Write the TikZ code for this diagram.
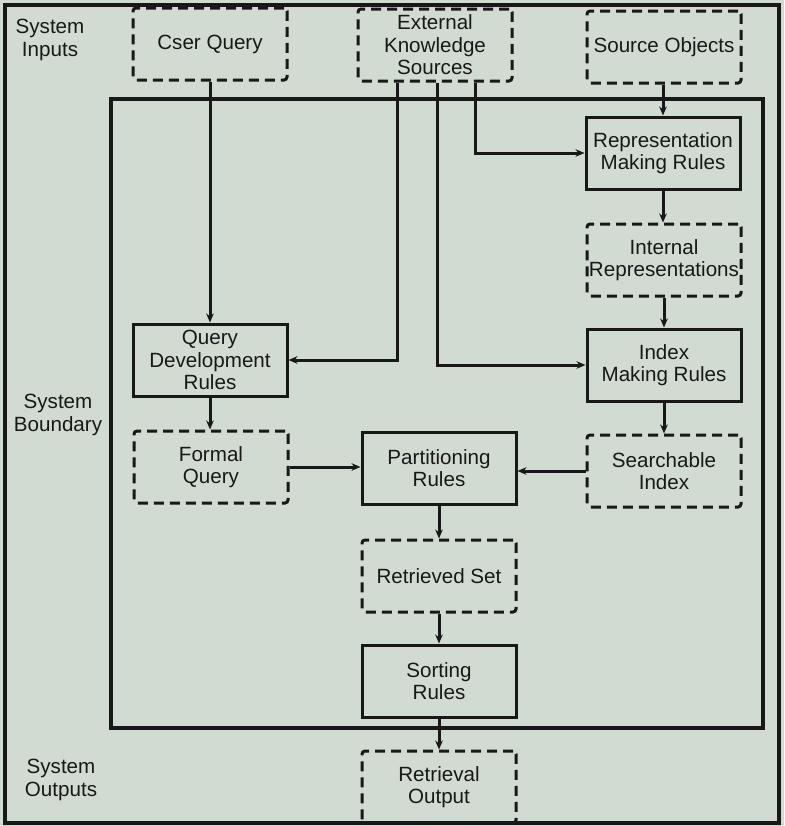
\documentclass[tikz,border=0pt]{standalone}
\usepackage{fontspec}
\setmainfont{Liberation Sans}
\usetikzlibrary{arrows.meta,calc}
\definecolor{paper}{RGB}{210,219,209}
\definecolor{ink}{RGB}{24,24,24}
\begin{document}
\begin{tikzpicture}[x=0.5pt,y=-0.5pt,
  every node/.style={font=\fontsize{10.3pt}{11.3pt}\selectfont, text=ink, align=center, inner sep=0pt},
  rulebox/.style={draw=ink, line width=1.5pt, minimum width=77pt, minimum height=36pt},
  databox/.style={draw=ink, line width=1.5pt, dash pattern=on 5pt off 3pt, rounded corners=1.5pt, minimum width=77pt, minimum height=36pt},
  arr/.style={draw=ink, line width=1.5pt, -{Stealth[length=4.5pt,width=3.8pt]}},
  frame/.style={draw=ink, line width=1.8pt},
  boundary/.style={draw=ink, line width=1.6pt},
  lbl/.style={font=\fontsize{10.3pt}{11.8pt}\selectfont}
]
\fill[paper] (0,0) rectangle (784,826);
\useasboundingbox (0,0) rectangle (784,826);
% frames
\draw[frame] (5,5) rectangle (779,823);
\draw[boundary] (111,99) rectangle (763,728);
% labels
\node[lbl] (lin) at (50,40) {System\\Inputs};
\node[lbl] (lbd) at (58,415) {System\\Boundary};
\node[lbl] (lout) at (61,780) {System\\Outputs};
% inputs
\node[databox] (cq) at (210,44) {Cser Query};
\node[databox] (ek) at (435,45) {External\\Knowledge\\Sources};
\node[databox] (so) at (664,47) {Source Objects};
% right column
\node[rulebox] (rmr) at (663,153) {Representation\\Making Rules};
\node[databox] (ir) at (664,260) {Internal\\Representations};
\node[rulebox] (imr) at (664,365) {Index\\Making Rules};
\node[databox] (si) at (664,471) {Searchable\\Index};
% left column
\node[rulebox] (qdr) at (210,360) {Query\\Development\\Rules};
\node[databox] (fq) at (211,467) {Formal\\Query};
% middle column
\node[rulebox] (pr) at (439,468) {Partitioning\\Rules};
\node[databox] (rs) at (439,576) {Retrieved Set};
\node[rulebox] (sr) at (439,681) {Sorting\\Rules};
\node[databox] (ro) at (439,787) {Retrieval\\Output};
% connectors
\draw[arr] (cq.south -| qdr.north) -- (qdr.north);
\draw[arr] (so.south -| rmr.north) -- (rmr.north);
\draw[arr] ([shift={(-38,0)}]ek.south) |- (qdr.east);
\draw[arr] ([shift={(2,0)}]ek.south) |- (imr.west);
\draw[arr] ([shift={(40,0)}]ek.south) |- (rmr.west);
\draw[arr] (rmr.south) -- (rmr.south |- ir.north);
\draw[arr] (ir.south) -- (ir.south |- imr.north);
\draw[arr] (imr.south) -- (imr.south |- si.north);
\draw[arr] (si.west) -- (si.west -| pr.east);
\draw[arr] (qdr.south) -- (qdr.south |- fq.north);
\draw[arr] (fq.east) -- (fq.east -| pr.west);
\draw[arr] (pr.south) -- (rs.north);
\draw[arr] (rs.south) -- (sr.north);
\draw[arr] (sr.south) -- (ro.north);
\end{tikzpicture}
\end{document}
